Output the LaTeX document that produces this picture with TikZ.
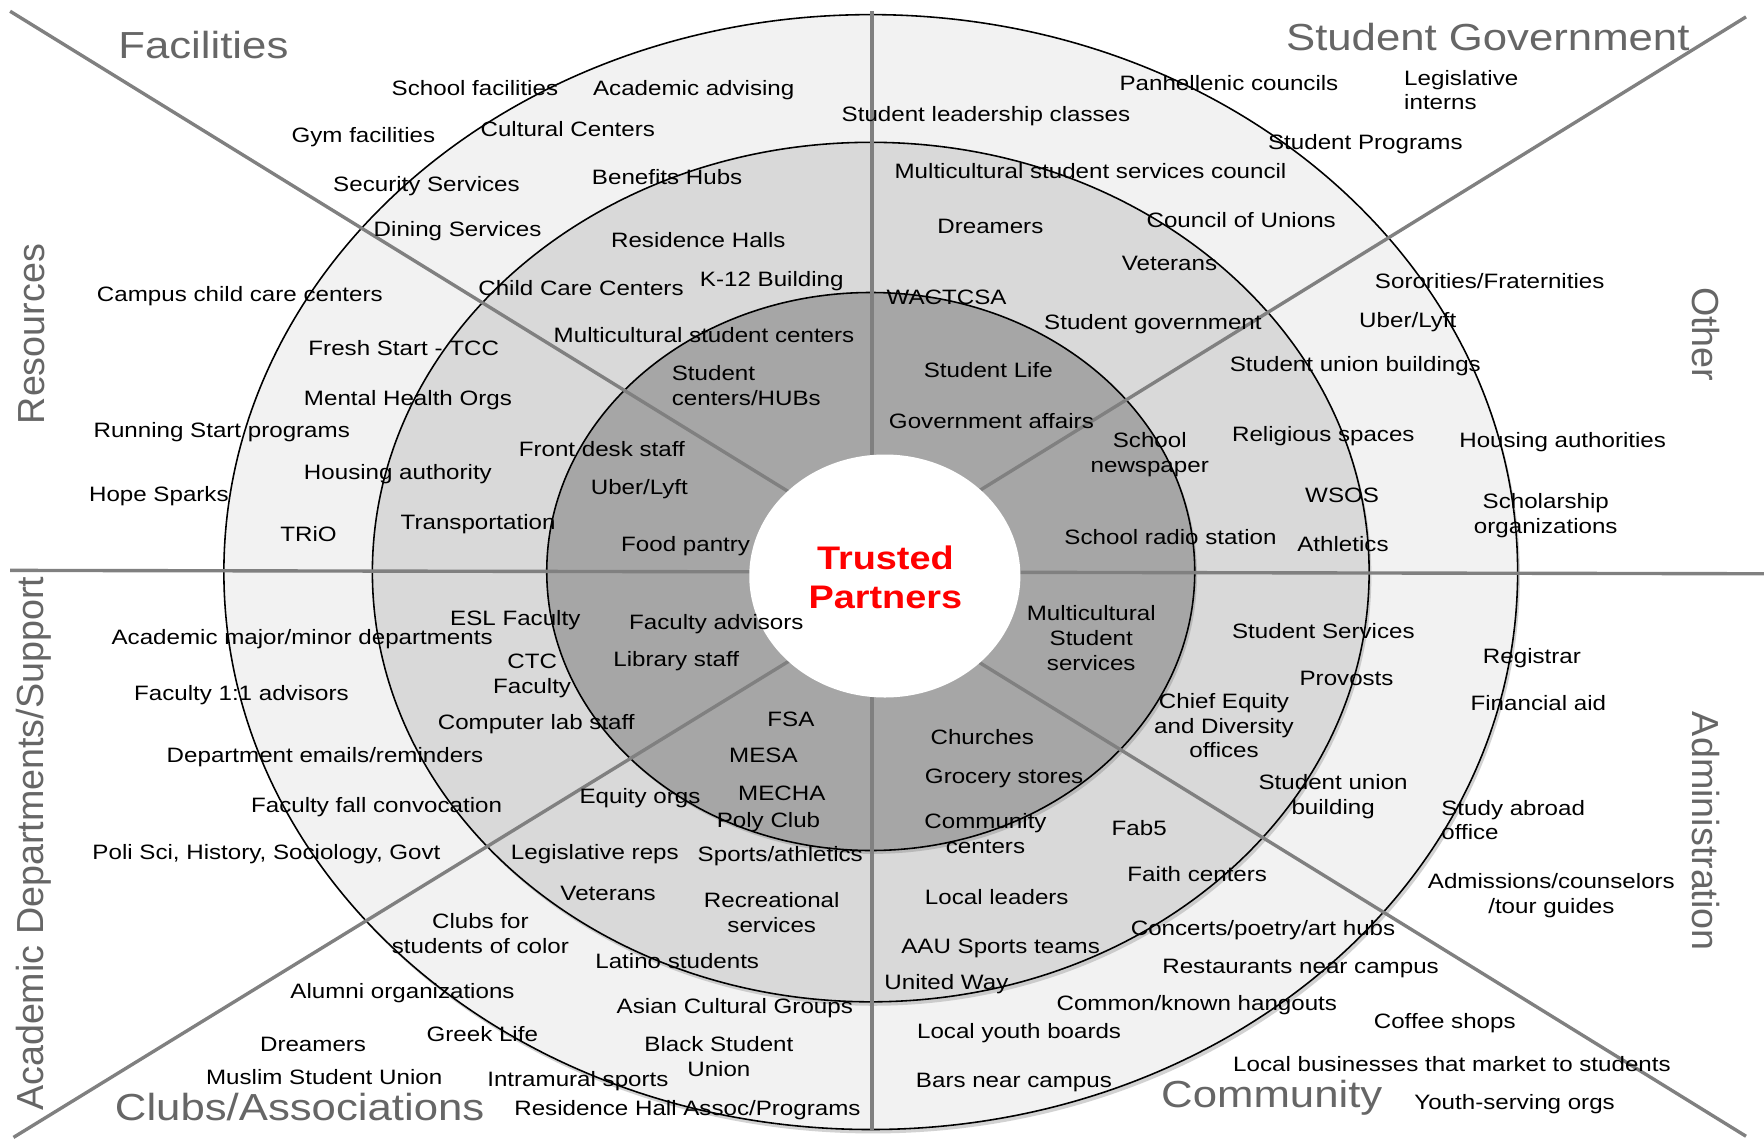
\documentclass[tikz,border=0pt]{standalone}
\usepackage{fontspec}
\setmainfont{Liberation Sans}
\newfontfamily\stretchfont{Liberation Sans}[FakeStretch=1.16]
\definecolor{ringA}{HTML}{F2F2F2}
\definecolor{ringB}{HTML}{D9D9D9}
\definecolor{ringC}{HTML}{A6A6A6}
\definecolor{spokegray}{HTML}{808080}
\definecolor{hdrgray}{HTML}{666666}
\definecolor{tpred}{HTML}{FF0000}
\tikzset{
  lab/.style={font=\stretchfont\fontsize{18.5}{22}\selectfont, inner sep=0pt, anchor=west, text=black},
  labc/.style={lab, anchor=center, align=center},
  labl/.style={lab, align=left},
  hdr/.style={font=\stretchfont\fontsize{33.5}{38}\selectfont, inner sep=0pt, anchor=west, text=hdrgray},
  hdrrot/.style={font=\fontsize{33.5}{38}\selectfont, inner sep=0pt, anchor=center, text=hdrgray},
  spoke/.style={draw=spokegray, line width=3pt},
  ring/.style={draw=black, line width=1.4pt}
}
\begin{document}
\begin{tikzpicture}[x=1pt,y=-1pt]
\useasboundingbox (0,0) rectangle (1568,1012);
\fill[white] (0,0) rectangle (1568,1012);
% rings
\fill[black!35, opacity=0.5] (776,512) ellipse [x radius=575, y radius=495.5];
\filldraw[ring, fill=ringA] (774,508.5) ellipse [x radius=575, y radius=495.5];
\fill[black!35, opacity=0.5] (776,512) ellipse [x radius=443, y radius=382];
\filldraw[ring, fill=ringB] (774,508.5) ellipse [x radius=443, y radius=382];
\fill[black!40, opacity=0.5] (776,511) ellipse [x radius=288, y radius=248];
\filldraw[ring, fill=ringC] (774,508) ellipse [x radius=288, y radius=248];
% spokes
\coordinate (tl) at (9,10);      \coordinate (tlc) at (730,455);
\coordinate (tr) at (1552,15);   \coordinate (trc) at (840,455);
\coordinate (bl) at (12,1011);   \coordinate (blc) at (730,570);
\coordinate (br) at (1552,1010); \coordinate (brc) at (840,570);
\coordinate (vt) at (775,10);    \coordinate (vb) at (775,1004);
\coordinate (hl) at (9,507);     \coordinate (hr) at (1568,510);
\draw[spoke] (tl) -- (tlc);
\draw[spoke] (tr) -- (trc);
\draw[spoke] (bl) -- (blc);
\draw[spoke] (br) -- (brc);
\draw[spoke] (vt) -- (vb);
\draw[spoke] (hl) -- (hr);
% center
\fill[white] (786.5,512) ellipse [x radius=120.5, y radius=108];
\node[font=\stretchfont\bfseries\fontsize{29}{35}\selectfont, text=tpred, align=center, inner sep=0pt] (center) at (787,513) {Trusted\\Partners};
% headers
\node[hdr] (hFac) at (105,40) {Facilities};
\node[hdr] (hSG) at (1143,33) {Student Government};
\node[hdrrot, rotate=90] (hRes) at (28,297) {Resources};
\node[hdrrot, rotate=-90] (hOth) at (1516,297) {Other};
\node[hdrrot, rotate=90] (hAcad) at (30,750) {Academic Departments/Support};
\node[hdrrot, rotate=-90] (hAdm) at (1516,739) {Administration};
\node[hdr] (hClubs) at (102,984) {Clubs/Associations};
\node[hdr] (hComm) at (1032,976) {Community};
% top-left
\node[lab] (a1) at (348,78) {School facilities};
\node[lab] (a2) at (527,80) {Academic advising};
\node[lab] (a3) at (259,122) {Gym facilities};
\node[lab] (a4) at (427,115) {Cultural Centers};
\node[lab] (a5) at (296,165) {Security Services};
\node[lab] (a6) at (526,157) {Benefits Hubs};
\node[lab] (a7) at (332,205) {Dining Services};
\node[lab] (a8) at (543,213) {Residence Halls};
\node[lab] (a9) at (425,256) {Child Care Centers};
\node[lab] (a10) at (622,250) {K-12 Building};
\node[lab] (a11) at (86,263) {Campus child care centers};
\node[lab] (a12) at (492,298) {Multicultural student centers};
\node[lab] (a13) at (274,309) {Fresh Start - TCC};
\node[labl] (a14) at (597,343) {Student\\centers/HUBs};
\node[lab] (a15) at (270,356) {Mental Health Orgs};
\node[lab] (a16) at (83,384) {Running Start programs};
\node[lab] (a17) at (461,399) {Front desk staff};
\node[lab] (a18) at (270,421) {Housing authority};
\node[lab] (a19) at (525,435) {Uber/Lyft};
\node[lab] (a20) at (79,441) {Hope Sparks};
\node[lab] (a21) at (249,475) {TRiO};
\node[lab] (a22) at (356,466) {Transportation};
\node[lab] (a23) at (552,485) {Food pantry};
% top-right
\node[lab] (b1) at (995,74) {Panhellenic councils};
\node[labl] (b2) at (1248,80) {Legislative\\interns};
\node[lab] (b3) at (748,103) {Student leadership classes};
\node[lab] (b4) at (1127,128) {Student Programs};
\node[lab] (b5) at (795,152) {Multicultural student services council};
\node[lab] (b6) at (833,201) {Dreamers};
\node[lab] (b7) at (1019,196) {Council of Unions};
\node[lab] (b8) at (997,234) {Veterans};
\node[lab] (b9) at (1222,250) {Sororities/Fraternities};
\node[lab] (b10) at (788,264) {WACTCSA};
\node[lab] (b11) at (928,288) {Student government};
\node[lab] (b12) at (1208,286) {Uber/Lyft};
\node[lab] (b13) at (821,329) {Student Life};
\node[lab] (b14) at (1093,325) {Student union buildings};
\node[lab] (b15) at (790,374) {Government affairs};
\node[labc] (b16) at (1022,404) {School\\newspaper};
\node[lab] (b17) at (1095,388) {Religious spaces};
\node[lab] (b18) at (1297,393) {Housing authorities};
\node[labc] (b19) at (1374,458) {Scholarship\\organizations};
\node[lab] (b20) at (1160,440) {WSOS};
\node[lab] (b21) at (946,477) {School radio station};
\node[lab] (b22) at (1153,484) {Athletics};
% bottom-left
\node[lab] (c1) at (400,551) {ESL Faculty};
\node[lab] (c2) at (559,555) {Faculty advisors};
\node[lab] (c3) at (99,568) {Academic major/minor departments};
\node[labc] (c4) at (473,601) {CTC\\Faculty};
\node[lab] (c5) at (545,588) {Library staff};
\node[lab] (c6) at (119,618) {Faculty 1:1 advisors};
\node[lab] (c7) at (389,644) {Computer lab staff};
\node[lab] (c8) at (682,639) {FSA};
\node[lab] (c9) at (148,673) {Department emails/reminders};
\node[lab] (c10) at (648,671) {MESA};
\node[lab] (c11) at (656,705) {MECHA};
\node[lab] (c12) at (515,709) {Equity orgs};
\node[lab] (c13) at (223,717) {Faculty fall convocation};
\node[lab] (c14) at (637,731) {Poly Club};
\node[lab] (c15) at (82,759) {Poli Sci, History, Sociology, Govt};
\node[lab] (c16) at (454,759) {Legislative reps};
\node[lab] (c17) at (620,761) {Sports/athletics};
\node[lab] (c18) at (498,794) {Veterans};
\node[labc] (c19) at (686,811) {Recreational\\services};
\node[labc] (c20) at (427,830) {Clubs for\\students of color};
\node[lab] (c21) at (529,854) {Latino students};
\node[lab] (c22) at (258,883) {Alumni organizations};
\node[lab] (c23) at (548,896) {Asian Cultural Groups};
\node[lab] (c24) at (231,928) {Dreamers};
\node[lab] (c25) at (379,919) {Greek Life};
\node[labc] (c26) at (639,939) {Black Student\\Union};
\node[lab] (c27) at (183,957) {Muslim Student Union};
\node[lab] (c28) at (433,961) {Intramural sports};
\node[lab] (c29) at (457,987) {Residence Hall Assoc/Programs};
% bottom-right
\node[labc] (d1) at (970,567) {Multicultural\\Student\\services};
\node[lab] (d2) at (1095,561) {Student Services};
\node[lab] (d3) at (1318,585) {Registrar};
\node[lab] (d4) at (1155,603) {Provosts};
\node[lab] (d5) at (1307,625) {Financial aid};
\node[labc] (d6) at (1088,645) {Chief Equity\\and Diversity\\offices};
\node[lab] (d7) at (827,655) {Churches};
\node[lab] (d8) at (822,692) {Grocery stores};
\node[labc] (d9) at (1185,708) {Student union\\building};
\node[labl] (d10) at (1281,729) {Study abroad\\office};
\node[labc] (d11) at (876,741) {Community\\centers};
\node[lab] (d12) at (988,736) {Fab5};
\node[lab] (d13) at (1002,777) {Faith centers};
\node[labc] (d14) at (1379,796) {Admissions/counselors\\/tour guides};
\node[lab] (d15) at (822,797) {Local leaders};
\node[lab] (d16) at (1005,827) {Concerts/poetry/art hubs};
\node[lab] (d17) at (801,843) {AAU Sports teams};
\node[lab] (d18) at (1033,861) {Restaurants near campus};
\node[lab] (d19) at (786,875) {United Way};
\node[lab] (d20) at (939,893) {Common/known hangouts};
\node[lab] (d21) at (1221,909) {Coffee shops};
\node[lab] (d22) at (815,918) {Local youth boards};
\node[lab] (d23) at (1096,946) {Local businesses that market to students};
\node[lab] (d24) at (814,962) {Bars near campus};
\node[lab] (d25) at (1257,981) {Youth-serving orgs};
\end{tikzpicture}
\end{document}
